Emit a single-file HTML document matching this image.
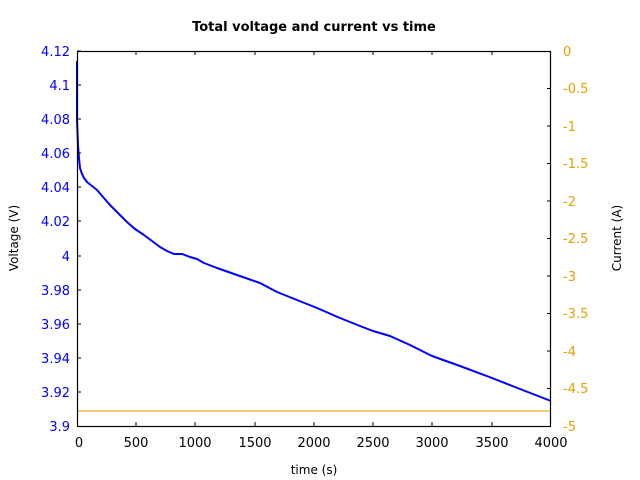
<!DOCTYPE html>
<html><head><meta charset="utf-8"><style>body{margin:0;background:#fff}svg{display:block}</style></head>
<body>
<svg width="640" height="480" xmlns="http://www.w3.org/2000/svg" font-family="DejaVu Sans, Liberation Sans, sans-serif" font-size="13">
<rect width="640" height="480" fill="#fff"/>
<text x="314" y="31" text-anchor="middle" font-weight="bold" font-size="13">Total voltage and current vs time</text>
<line x1="77" y1="411" x2="551" y2="411" stroke="#e69f00" stroke-width="1"/>
<polyline fill="none" stroke="#0000ff" stroke-width="2" stroke-linejoin="round" points="77,61 77,120 78,145 79,158 80,168 82,174 84,178 87,182 92,186 97,190 103,197 110,205 118,213 127,222 135,229 144,235 152,241 160,247 167,251 174,254 182,254 190,257 197,259 204,263 217,268 237,275 260,283 277,292 297,300 317,308 340,318 360,326 373,331 390,336 410,345 432,356 460,366 492,378 520,389 551,401"/>
<rect x="77.5" y="51.5" width="473" height="375" fill="none" stroke="#000" stroke-width="1.2"/>
<g stroke="#000">
<line x1="77" y1="51" x2="81" y2="51"/><line x1="77" y1="85" x2="81" y2="85"/><line x1="77" y1="119" x2="81" y2="119"/><line x1="77" y1="153" x2="81" y2="153"/><line x1="77" y1="187" x2="81" y2="187"/><line x1="77" y1="221" x2="81" y2="221"/><line x1="77" y1="256" x2="81" y2="256"/><line x1="77" y1="290" x2="81" y2="290"/><line x1="77" y1="324" x2="81" y2="324"/><line x1="77" y1="358" x2="81" y2="358"/><line x1="77" y1="392" x2="81" y2="392"/>
<line x1="547" y1="88.5" x2="551" y2="88.5"/><line x1="547" y1="126" x2="551" y2="126"/><line x1="547" y1="163.5" x2="551" y2="163.5"/><line x1="547" y1="201" x2="551" y2="201"/><line x1="547" y1="238.5" x2="551" y2="238.5"/><line x1="547" y1="276" x2="551" y2="276"/><line x1="547" y1="313.5" x2="551" y2="313.5"/><line x1="547" y1="351" x2="551" y2="351"/><line x1="547" y1="388.5" x2="551" y2="388.5"/>
<line x1="136" y1="51" x2="136" y2="55"/><line x1="195" y1="51" x2="195" y2="55"/><line x1="255" y1="51" x2="255" y2="55"/><line x1="314" y1="51" x2="314" y2="55"/><line x1="373" y1="51" x2="373" y2="55"/><line x1="432" y1="51" x2="432" y2="55"/><line x1="492" y1="51" x2="492" y2="55"/>
<line x1="136" y1="422" x2="136" y2="426"/><line x1="195" y1="422" x2="195" y2="426"/><line x1="255" y1="422" x2="255" y2="426"/><line x1="314" y1="422" x2="314" y2="426"/><line x1="373" y1="422" x2="373" y2="426"/><line x1="432" y1="422" x2="432" y2="426"/><line x1="492" y1="422" x2="492" y2="426"/>
</g>
<g fill="#0000ff" text-anchor="end">
<text x="70" y="56">4.12</text><text x="70" y="90">4.1</text><text x="70" y="124">4.08</text><text x="70" y="158">4.06</text><text x="70" y="192">4.04</text><text x="70" y="226">4.02</text><text x="70" y="261">4</text><text x="70" y="295">3.98</text><text x="70" y="329">3.96</text><text x="70" y="363">3.94</text><text x="70" y="397">3.92</text><text x="70" y="431">3.9</text>
</g>
<g fill="#e69f00">
<text x="563" y="56">0</text><text x="563" y="93">-0.5</text><text x="563" y="131">-1</text><text x="563" y="168">-1.5</text><text x="563" y="206">-2</text><text x="563" y="243">-2.5</text><text x="563" y="281">-3</text><text x="563" y="318">-3.5</text><text x="563" y="356">-4</text><text x="563" y="393">-4.5</text><text x="563" y="431">-5</text>
</g>
<g text-anchor="middle">
<text x="79" y="447">0</text><text x="136" y="447">500</text><text x="195" y="447">1000</text><text x="255" y="447">1500</text><text x="314" y="447">2000</text><text x="373" y="447">2500</text><text x="432" y="447">3000</text><text x="492" y="447">3500</text><text x="551" y="447">4000</text>
<text x="314" y="474" font-size="12">time (s)</text>
<text transform="translate(18,238) rotate(-90)" font-size="12">Voltage (V)</text>
<text transform="translate(621,238) rotate(-90)" font-size="12">Current (A)</text>
</g>
</svg>
</body></html>
